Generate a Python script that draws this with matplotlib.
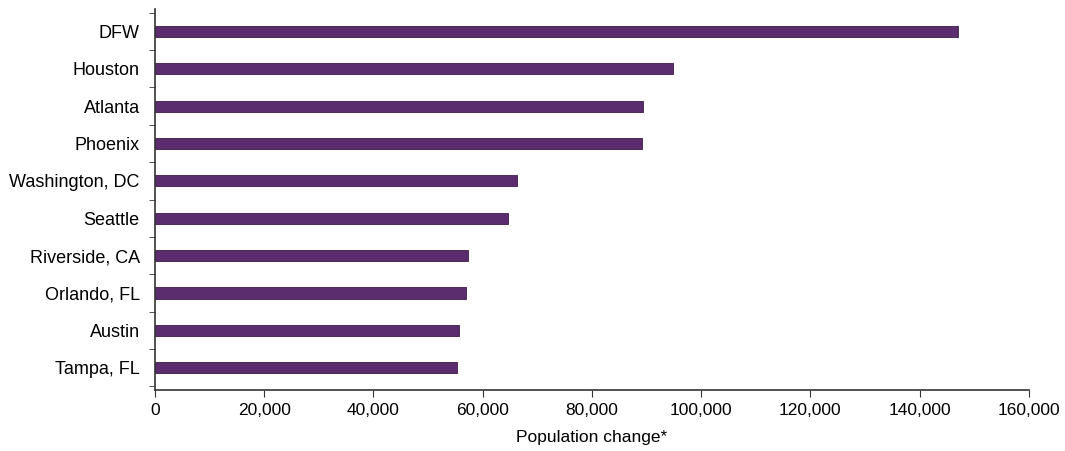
import numpy as np
import matplotlib.pyplot as plt
from matplotlib.ticker import FuncFormatter

plt.rcParams['font.family'] = ['Liberation Sans', 'DejaVu Sans']

# metro areas, top to bottom as in the chart
metros = ['DFW', 'Houston', 'Atlanta', 'Phoenix', 'Washington, DC',
          'Seattle', 'Riverside, CA', 'Orlando, FL', 'Austin', 'Tampa, FL']
pop_change = [147000, 94900, 89400, 89200, 66200,
              64700, 57400, 57000, 55700, 55300]

bar_color = '#5b2d6e'

fig = plt.figure(figsize=(10.65, 4.51), dpi=100)
ax = fig.add_axes([0.1455, 0.135, 0.8205, 0.845])

y = np.arange(len(metros))
ax.barh(y, pop_change, height=0.3, color=bar_color, edgecolor='#3c1a4a', linewidth=0.6)

ax.set_ylim(len(metros) - 0.4, -0.6)
ax.set_xlim(0, 160000)

ax.set_yticks(y)
ax.set_yticklabels(metros, fontsize=13)
ax.set_yticks(np.arange(-0.5, len(metros), 1), minor=True)
ax.tick_params(axis='y', which='major', length=0, pad=11)
ax.tick_params(axis='y', which='minor', length=4, direction='out', color='#333333')

ax.set_xticks(np.arange(0, 160001, 20000))
ax.xaxis.set_major_formatter(FuncFormatter(lambda v, p: f'{int(v):,}'))
ax.tick_params(axis='x', labelsize=12.5, length=5, direction='out', color='#333333', pad=4)
ax.set_xlabel('Population change*', fontsize=12.5, labelpad=9)

for side in ['top', 'right']:
    ax.spines[side].set_visible(False)
for side in ['left', 'bottom']:
    ax.spines[side].set_color('#333333')
    ax.spines[side].set_linewidth(1.2)

fig.savefig('out.png', dpi=100)
